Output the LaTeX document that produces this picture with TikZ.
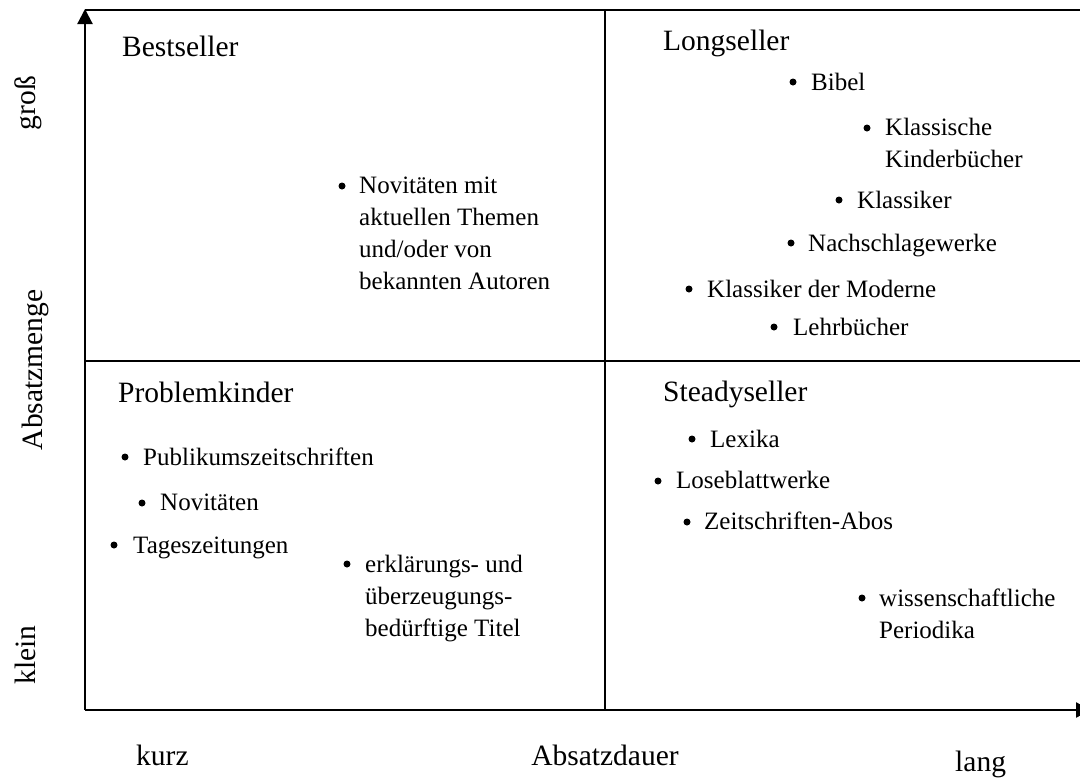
\documentclass[tikz,border=0pt]{standalone}
\usepackage{fontspec}
\setmainfont{Liberation Serif}
\usetikzlibrary{arrows.meta}
\begin{document}
\begin{tikzpicture}[x=1pt,y=-1pt,
  axisline/.style={line width=2.2pt},
  tip/.style={-{Triangle[length=15pt,width=15pt]}},
  dot/.style={circle,fill=black,inner sep=0pt,minimum size=7pt},
  item/.style={anchor=base west,inner sep=0pt,font=\fontsize{25}{32}\selectfont},
  heading/.style={anchor=base west,inner sep=0pt,font=\fontsize{29.5}{36}\selectfont},
  axlabel/.style={anchor=base,inner sep=0pt,font=\fontsize{29.5}{36}\selectfont}]
\useasboundingbox (0,0) rectangle (1080,780);
% frame and axes
\coordinate (O) at (85,710);
\coordinate (ytip) at (85,9);
\coordinate (xtip) at (1091,710);
\coordinate (TL) at (85,10);
\coordinate (TR) at (1090,10);
\coordinate (MT) at (605,10);
\coordinate (MB) at (605,710);
\coordinate (ML) at (85,361);
\coordinate (MR) at (1090,361);
\draw[axisline] (TL) -- (TR);
\draw[axisline] (MT) -- (MB);
\draw[axisline] (ML) -- (MR);
\draw[axisline,tip] (O) -- (ytip);
\draw[axisline,tip] (O) -- (xtip);
% axis labels
\node[axlabel,rotate=90] (gross) at (35,103) {groß};
\node[axlabel,rotate=90] (menge) at (42,370) {Absatzmenge};
\node[axlabel,rotate=90] (klein) at (35,655) {klein};
\node[axlabel,anchor=base west] (kurz) at (136,765) {kurz};
\node[axlabel] (dauer) at (605,765) {Absatzdauer};
\node[axlabel,anchor=base west] (lang) at (955,771) {lang};
% headings
\node[heading] (h1) at (122,56) {Bestseller};
\node[heading] (h2) at (663,50) {Longseller};
\node[heading] (h3) at (118,402) {Problemkinder};
\node[heading] (h4) at (663,401) {Steadyseller};
% Bestseller
\node[dot] (d1) at (342,186) {};
\node[item] (t1) at (359,193) {\vtop{\hbox{Novitäten mit}\hbox{aktuellen Themen}\hbox{und/oder von}\hbox{bekannten Autoren}}};
% Longseller
\node[dot] (d2) at (793,82) {};
\node[item] (t2) at (811,90) {Bibel};
\node[dot] (d3) at (867,128) {};
\node[item] (t3) at (885,135) {\vtop{\hbox{Klassische}\hbox{Kinderbücher}}};
\node[dot] (d4) at (839,200) {};
\node[item] (t4) at (857,208) {Klassiker};
\node[dot] (d5) at (791,243) {};
\node[item] (t5) at (808,251) {Nachschlagewerke};
\node[dot] (d6) at (689,289) {};
\node[item] (t6) at (707,297) {Klassiker der Moderne};
\node[dot] (d7) at (774,327) {};
\node[item] (t7) at (793,335) {Lehrbücher};
% Problemkinder
\node[dot] (d8) at (125,457) {};
\node[item] (t8) at (143,465) {Publikumszeitschriften};
\node[dot] (d9) at (142,503) {};
\node[item] (t9) at (160,510) {Novitäten};
\node[dot] (d10) at (114,545) {};
\node[item] (t10) at (133,553) {Tageszeitungen};
\node[dot] (d11) at (347,564) {};
\node[item] (t11) at (365,572) {\vtop{\hbox{erklärungs- und}\hbox{überzeugungs-}\hbox{bedürftige Titel}}};
% Steadyseller
\node[dot] (d12) at (692,439) {};
\node[item] (t12) at (710,447) {Lexika};
\node[dot] (d13) at (658,481) {};
\node[item] (t13) at (676,488) {Loseblattwerke};
\node[dot] (d14) at (687,522) {};
\node[item] (t14) at (704,529) {Zeitschriften-Abos};
\node[dot] (d15) at (862,598) {};
\node[item] (t15) at (879,606) {\vtop{\hbox{wissenschaftliche}\hbox{Periodika}}};
\end{tikzpicture}
\end{document}
